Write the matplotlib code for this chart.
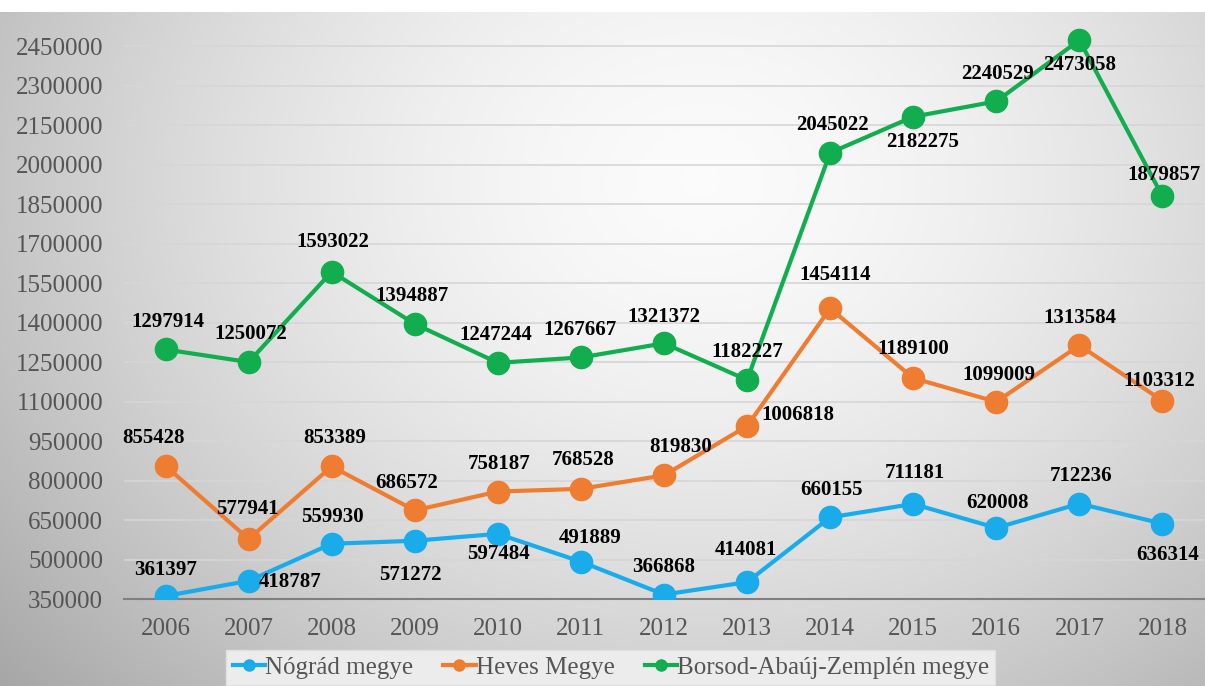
import numpy as np
import matplotlib
matplotlib.use("Agg")
import matplotlib.pyplot as plt

# data
years = [2006, 2007, 2008, 2009, 2010, 2011, 2012, 2013, 2014, 2015, 2016, 2017, 2018]
nograd = [361397, 418787, 559930, 571272, 597484, 491889, 366868, 414081, 660155, 711181, 620008, 712236, 636314]
heves = [855428, 577941, 853389, 686572, 758187, 768528, 819830, 1006818, 1454114, 1189100, 1099009, 1313584, 1103312]
borsod = [1297914, 1250072, 1593022, 1394887, 1247244, 1267667, 1321372, 1182227, 2045022, 2182275, 2240529, 2473058, 1879857]
series_names = ["Nógrád megye", "Heves Megye", "Borsod-Abaúj-Zemplén megye"]
yticks = list(range(350000, 2450001, 150000))

# label offsets in pixels (dx, dy up) - placed by hand like in the original
off_nograd = [(0, 26), (42, -1), (1, 27), (-4, -34), (1, -20), (9, 24), (0, 28),
              (-1, 32), (1, 27), (2, 31), (1, 25), (2, 28), (5, -31)]
off_heves = [(-12, 28), (-1, 30), (3, 28), (-8, 27), (1, 28), (2, 29), (17, 28),
             (51, 11), (5, 33), (0, 29), (3, 27), (0, 27), (-3, 20)]
off_borsod = [(2, 27), (2, 28), (1, 30), (-3, 28), (-2, 28), (-1, 27), (0, 26),
              (0, 28), (2, 28), (9, -25), (1, 27), (0, -25), (2, 21)]

colors = ["#1aabeb", "#ee7d31", "#12ad4e"]
SERIF = "Liberation Serif"

fig = plt.figure(figsize=(12.05, 6.86), dpi=100)

# radial grey background, white strip at the top
bg = fig.add_axes([0, 0, 1, 1])
h, w = 686, 1205
yy, xx = np.mgrid[0:h, 0:w]
d = np.sqrt(((xx - 700) / 760.0) ** 2 + ((yy - 180) / 620.0) ** 2)
val = 0.985 - 0.24 * np.clip(d, 0, 1.3) ** 1.6
img = np.dstack([val, val, val])
img[:12, :, :] = 1.0
bg.imshow(img, aspect="auto", extent=[0, 1, 0, 1], origin="upper")
bg.axis("off")

ax = fig.add_axes([124 / 1205, 1 - 599 / 686, 1080 / 1205, 587 / 686])
ax.patch.set_alpha(0)

for vals, offs, col, name in zip([nograd, heves, borsod], [off_nograd, off_heves, off_borsod],
                                 colors, series_names):
    ax.plot(years, vals, color=col, lw=3, marker="o", markersize=16, label=name, zorder=3)
    for x, v, (dx, dy) in zip(years, vals, offs):
        ax.annotate(str(v), (x, v), xytext=(dx, dy), textcoords="offset pixels",
                    ha="center", va="center", fontsize=15, fontweight="bold",
                    family=SERIF, color="black", zorder=4)

ax.set_xlim(2005.5, 2018.5)
ax.set_ylim(350000, 2580000)
ax.set_xticks(years)
ax.set_yticks(yticks)
ax.set_yticklabels([str(t) for t in yticks])
ax.tick_params(length=0, labelsize=18, labelcolor="#555555")
ax.tick_params(axis="y", pad=15)
ax.tick_params(axis="x", pad=14)
for lab in ax.get_xticklabels() + ax.get_yticklabels():
    lab.set_family(SERIF)
ax.grid(axis="y", color="#d6d6d6", lw=1.2)
ax.set_axisbelow(True)
for s in ["top", "right", "left"]:
    ax.spines[s].set_visible(False)
ax.spines["bottom"].set_color("#7f7f7f")
ax.spines["bottom"].set_linewidth(1.5)

leg = fig.legend(loc="upper center", bbox_to_anchor=(0.507, 1 - 650 / 686), ncol=3,
                 prop={"family": SERIF, "size": 18}, frameon=True, fancybox=False,
                 handlelength=1.3, handletextpad=0.0, columnspacing=1.2,
                 markerscale=0.5, borderpad=0.25, borderaxespad=0)
leg.get_frame().set_facecolor("#ececec")
leg.get_frame().set_edgecolor("#e0e0e0")
leg.get_frame().set_alpha(1)
for t in leg.get_texts():
    t.set_color("#555555")

fig.savefig("out.png", dpi=100)
